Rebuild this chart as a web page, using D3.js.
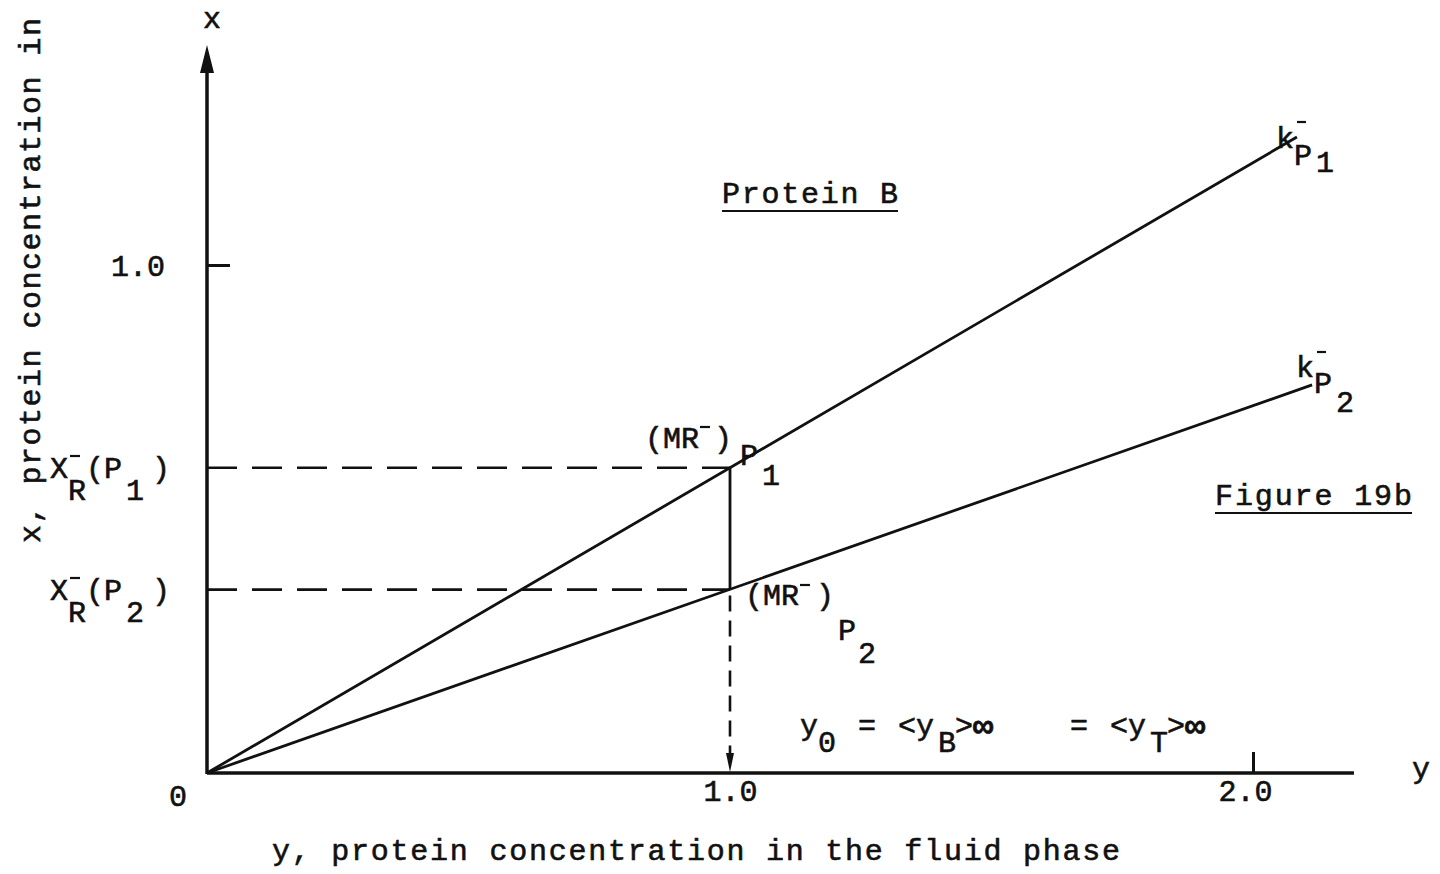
<!DOCTYPE html>
<html>
<head>
<meta charset="utf-8">
<script src="https://cdn.jsdelivr.net/npm/d3@7"></script>
<style>
  html, body { margin: 0; padding: 0; background: #fff; }
  svg { display: block; }
  text { font-family: "Liberation Mono", "DejaVu Sans Mono", monospace; fill: #111; stroke: #111; stroke-width: 0.6px; }
</style>
</head>
<body>
<svg id="chart" width="1440" height="874"></svg>
<script>
// Equilibrium lines (y = fluid-phase concentration, x = bound concentration)
const lineP1 = [[0, 0], [2.084, 1.252]];
const lineP2 = [[0, 0], [2.113, 0.764]];
// Operating point at y0 = 1.0
const y0 = 1.0;
const xRP1 = 0.601;
const xRP2 = 0.361;
// Tick values and labels
const xTicks = [1.0, 2.0];
const xTickLabels = ["1.0", "2.0"];
const yTicks = [1.0];
const yTickLabels = ["1.0"];

const svg = d3.select("#chart");
const ink = "#111";

const x = d3.scaleLinear().domain([0, 1]).range([207, 730]);
const y = d3.scaleLinear().domain([0, 1]).range([773, 265]);

// Vertical axis (x) with arrow head
const yAxis = d3.axisLeft(y).tickValues(yTicks)
  .tickFormat((d, i) => yTickLabels[i]).tickSizeInner(-23).tickSizeOuter(0).tickPadding(42);
const gy = svg.append("g").attr("transform", `translate(${x(0)},0)`).call(yAxis);
gy.select(".domain").remove();
gy.selectAll(".tick line").attr("stroke", ink).attr("stroke-width", 3);
gy.selectAll(".tick text").attr("font-size", 30).attr("fill", ink)
  .attr("font-family", "Liberation Mono").attr("dy", "0.35em");
const yTop = y(1.433);
svg.append("line")
  .attr("x1", x(0)).attr("x2", x(0)).attr("y1", y(0) + 1).attr("y2", yTop + 20)
  .attr("stroke", ink).attr("stroke-width", 3.5);
svg.append("path")
  .attr("d", `M${x(0)},${yTop} L${x(0) + 7},${yTop + 28} L${x(0) - 7},${yTop + 28} Z`)
  .attr("fill", ink);

// Horizontal axis (y)
const xAxis = d3.axisBottom(x).tickValues(xTicks)
  .tickFormat((d, i) => xTickLabels[i]).tickSizeInner(-21).tickSizeOuter(0).tickPadding(0);
const gx = svg.append("g").attr("transform", `translate(0,${y(0)})`).call(xAxis);
gx.select(".domain").remove();
gx.selectAll(".tick line").attr("stroke", ink).attr("stroke-width", 3)
  .attr("opacity", d => d === 1 ? 0 : 1);
gx.selectAll(".tick text").attr("font-size", 30).attr("fill", ink)
  .attr("font-family", "Liberation Mono").attr("y", 28).attr("dy", 0)
  .attr("dx", d => d === 2 ? -8 : 0);
svg.append("line")
  .attr("x1", x(0)).attr("x2", x(2.193)).attr("y1", y(0)).attr("y2", y(0))
  .attr("stroke", ink).attr("stroke-width", 3.5);

// Equilibrium lines
const lineGen = d3.line().x(d => x(d[0])).y(d => y(d[1]));
[lineP1, lineP2].forEach(pts => {
  svg.append("path").datum(pts).attr("d", lineGen)
    .attr("fill", "none").attr("stroke", ink).attr("stroke-width", 2.8);
});

// Dashed projections to the x axis
[xRP1, xRP2].forEach(v => {
  svg.append("line")
    .attr("x1", x(0)).attr("x2", x(y0)).attr("y1", y(v)).attr("y2", y(v))
    .attr("stroke", ink).attr("stroke-width", 2.6).attr("stroke-dasharray", "30,15");
});
// Solid drop between the two operating points, dashed drop to the axis
svg.append("line")
  .attr("x1", x(y0)).attr("x2", x(y0)).attr("y1", y(xRP1)).attr("y2", y(xRP2))
  .attr("stroke", ink).attr("stroke-width", 2.8);
svg.append("line")
  .attr("x1", x(y0)).attr("x2", x(y0)).attr("y1", y(xRP2) + 6).attr("y2", y(0) - 16)
  .attr("stroke", ink).attr("stroke-width", 2.6).attr("stroke-dasharray", "16,9");
svg.append("path")
  .attr("d", `M${x(y0)},${y(0) - 1} L${x(y0) + 4},${y(0) - 20} L${x(y0) - 4},${y(0) - 20} Z`)
  .attr("fill", ink);

// Text helper supporting sub/superscripts
function label(xp, yp, txt, size = 30) {
  return svg.append("text").attr("x", xp).attr("y", yp).attr("font-size", size).text(txt);
}
function bar(xp, yp, len) {
  svg.append("line").attr("x1", xp).attr("x2", xp + len).attr("y1", yp).attr("y2", yp)
    .attr("stroke", ink).attr("stroke-width", 2.2);
}

// Axis names
svg.append("text").attr("x", 212).attr("y", 28).attr("text-anchor", "middle")
  .attr("font-size", 30).text("x");
svg.append("text").attr("x", 1421).attr("y", 778).attr("text-anchor", "middle")
  .attr("font-size", 30).text("y");
svg.append("text").attr("x", 178).attr("y", 806).attr("text-anchor", "middle")
  .attr("font-size", 30).text("0");

// Axis titles
svg.append("text").attr("x", 272).attr("y", 860).attr("font-size", 30)
  .attr("textLength", 848).attr("lengthAdjust", "spacing")
  .text("y, protein concentration in the fluid phase");
svg.append("text").attr("transform", "translate(40,543) rotate(-90)")
  .attr("font-size", 30).attr("textLength", 525).attr("lengthAdjust", "spacing")
  .text("x, protein concentration in");

// X_R^- labels on the vertical axis
function xrLabel(yBase, sub) {
  label(50, yBase, "X");
  bar(70, yBase - 22, 10);
  label(68, yBase + 22, "R");
  label(86, yBase, "(P");
  label(126, yBase + 22, sub);
  label(152, yBase, ")");
}
xrLabel(478, "1");
xrLabel(600, "2");

// Operating point labels
label(645, 448, "(MR");
bar(700, 427, 10);
label(714, 448, ")");
label(740, 465, "P");
label(762, 485, "1");

label(745, 605, "(MR");
bar(800, 585, 10);
label(816, 605, ")");
label(838, 640, "P");
label(858, 663, "2");

// Line end labels
label(1276, 148, "k");
bar(1297, 122, 9);
label(1294, 165, "P");
label(1316, 172, "1");

label(1296, 377, "k");
bar(1317, 352, 9);
label(1314, 393, "P");
label(1336, 412, "2");

// Underlined titles
function underlined(xp, yp, txt, len) {
  svg.append("text").attr("x", xp).attr("y", yp).attr("font-size", 30)
    .attr("textLength", len).attr("lengthAdjust", "spacing").text(txt);
  svg.append("line").attr("x1", xp).attr("x2", xp + len)
    .attr("y1", yp + 8).attr("y2", yp + 8).attr("stroke", ink).attr("stroke-width", 2);
}
underlined(722, 203, "Protein B", 176);
underlined(1215, 505, "Figure 19b", 197);

// Relation annotation
label(800, 735, "y");
label(818, 752, "0");
label(858, 735, "=");
label(898, 735, "<y");
label(938, 752, "B");
label(955, 735, ">");
label(973, 737, "\u221E", 34).attr("font-weight", "bold").attr("stroke-width", 1.6);
label(1070, 735, "=");
label(1110, 735, "<y");
label(1150, 752, "T");
label(1167, 735, ">");
label(1185, 737, "\u221E", 34).attr("font-weight", "bold").attr("stroke-width", 1.6);
</script>
</body>
</html>
